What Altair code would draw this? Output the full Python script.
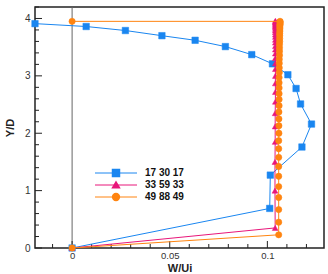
import altair as alt
import pandas as pd

# W/Ui profiles against Y/D for three cases
blue_name = "17 30 17"
blue_w = [-0.019, 0.0072, 0.0273, 0.046, 0.063, 0.0785, 0.092, 0.1026, 0.1105,
          0.1147, 0.117, 0.1226, 0.1177, 0.1015, 0.1012, 0.0]
blue_y = [3.91, 3.86, 3.79, 3.70, 3.62, 3.51, 3.37, 3.21, 3.02,
          2.78, 2.51, 2.16, 1.76, 1.27, 0.69, 0.0]

pink_name = "33 59 33"
pink_w = [0.0, 0.104, 0.1039, 0.1039, 0.104, 0.104, 0.104, 0.1041, 0.1041, 0.1041,
          0.1041, 0.1041, 0.1041, 0.1041, 0.1041, 0.1041, 0.1041, 0.1041, 0.1041, 0.1041,
          0.1041, 0.1041, 0.1041, 0.1041, 0.1041, 0.1041, 0.1041, 0.1041, 0.1041, 0.1041,
          0.1041]
pink_y = [0.0, 0.35, 1.0, 1.5, 1.85, 2.12, 2.35, 2.55, 2.72, 2.87,
          3.0, 3.12, 3.22, 3.31, 3.39, 3.46, 3.52, 3.58, 3.63, 3.68,
          3.72, 3.76, 3.79, 3.82, 3.85, 3.87, 3.89, 3.91, 3.93, 3.945,
          3.96]

orange_name = "49 88 49"
orange_w = [0.0, 0.1058, 0.1058, 0.1058, 0.1058, 0.1058, 0.1058, 0.1058, 0.1058, 0.1058,
            0.1058, 0.1059, 0.1059, 0.1059, 0.1059, 0.106, 0.106, 0.106, 0.106, 0.106,
            0.106, 0.1061, 0.1061, 0.1061, 0.1061, 0.1062, 0.1062, 0.1062, 0.1062, 0.1063,
            0.1063, 0.1063, 0.1063, 0.1064, 0.1064, 0.1064, 0.1064, 0.1065, 0.1065, 0.1065,
            0.1065, 0.0]
orange_y = [0.0, 0.23, 0.45, 0.67, 0.88, 1.07, 1.25, 1.42, 1.58, 1.73,
            1.87, 2.0, 2.13, 2.25, 2.37, 2.48, 2.59, 2.69, 2.79, 2.88,
            2.97, 3.06, 3.14, 3.22, 3.29, 3.36, 3.43, 3.49, 3.55, 3.6,
            3.65, 3.7, 3.74, 3.78, 3.82, 3.85, 3.88, 3.9, 3.92, 3.94,
            3.95, 3.95]

x_major = [0, 0.05, 0.1]
x_minor = [-0.01, 0.01, 0.02, 0.03, 0.04, 0.06, 0.07, 0.08, 0.09, 0.11, 0.12]
y_major = [0, 1, 2, 3, 4]
y_minor = [0.2, 0.4, 0.6, 0.8, 1.2, 1.4, 1.6, 1.8, 2.2, 2.4, 2.6, 2.8,
           3.2, 3.4, 3.6, 3.8, 4.2]

W, H = 289, 241
FONT = "Liberation Sans"

xscale = alt.Scale(domain=[-0.019, 0.129], nice=False, zero=False)
yscale = alt.Scale(domain=[0, 4.2], nice=False, zero=False)

x_axis = alt.Axis(values=x_major, format="~g", ticks=False, domain=False, grid=False,
                  labelFontSize=9.5, labelColor="#333", labelFont=FONT, labelPadding=2,
                  title="W/Ui", titleFont=FONT, titleFontSize=11, titleFontWeight="bold",
                  titleY=14, titleBaseline="top", titleColor="#222")
y_axis = alt.Axis(values=y_major, format="d", ticks=False, domain=False, grid=False,
                  labelFontSize=10, labelColor="#333", labelFont=FONT, labelPadding=5,
                  title="Y/D", titleFont=FONT, titleFontSize=11, titleFontWeight="bold",
                  titlePadding=9, titleColor="#222")


def xenc(field="w"):
    return alt.X(f"{field}:Q", scale=xscale, axis=x_axis)


def yenc(field="y"):
    return alt.Y(f"{field}:Q", scale=yscale, axis=y_axis)


def series(ws, ys, color, shape, size):
    df = pd.DataFrame({"w": ws, "y": ys, "i": list(range(len(ws)))})
    line = alt.Chart(df).mark_line(color=color, strokeWidth=1, clip=True).encode(
        x=xenc(), y=yenc(), order="i:Q")
    pts = alt.Chart(df).mark_point(shape=shape, filled=True, fill=color, stroke=color,
                                   strokeWidth=0.5, size=size, opacity=1).encode(
        x=xenc(), y=yenc())
    return line + pts


BLUE = "#1a86f0"
PINK = "#e8167a"
ORANGE = "#ff8410"

# zero line of W/Ui
zero_df = pd.DataFrame({"w": [0.0]})
zero_line = alt.Chart(zero_df).mark_rule(color="#666", strokeWidth=1).encode(x=xenc())

# inward ticks on bottom and left edges
def xticks(vals, length):
    df = pd.DataFrame({"w": vals})
    return alt.Chart(df).mark_rule(color="#222", strokeWidth=1).encode(
        x=xenc(), y=alt.value(H), y2=alt.value(H - length))


def yticks(vals, length):
    df = pd.DataFrame({"y": vals})
    return alt.Chart(df).mark_rule(color="#222", strokeWidth=1).encode(
        y=yenc(), x=alt.value(0), x2=alt.value(length))


# legend block
legend_names = [blue_name, pink_name, orange_name]
legend_styles = [(BLUE, "square", 42), (PINK, "triangle-up", 36), (ORANGE, "circle", 40)]
legend_rows = [166, 178, 190]
legend_layers = []
for name, (color, shape, size), ry in zip(legend_names, legend_styles, legend_rows):
    one = pd.DataFrame({"label": [name]})
    legend_layers.append(alt.Chart(one).mark_rule(color=color, strokeWidth=1).encode(
        x=alt.value(60), x2=alt.value(102), y=alt.value(ry)))
    legend_layers.append(alt.Chart(one).mark_point(shape=shape, filled=True, fill=color,
                                                   stroke=color, size=size, opacity=1).encode(
        x=alt.value(81), y=alt.value(ry)))
    legend_layers.append(alt.Chart(one).mark_text(align="left", baseline="middle", font=FONT,
                                                  fontSize=10, fontWeight="bold", color="#111").encode(
        x=alt.value(110), y=alt.value(ry), text="label:N"))

chart = alt.layer(
    zero_line,
    xticks(x_major, 7), xticks(x_minor, 4),
    yticks(y_major, 7), yticks(y_minor, 4),
    series(blue_w, blue_y, BLUE, "square", 42),
    series(pink_w, pink_y, PINK, "triangle-up", 34),
    series(orange_w, orange_y, ORANGE, "circle", 40),
    *legend_layers,
).properties(
    width=W, height=H,
    autosize=alt.AutoSizeParams(type="none"),
    padding={"left": 35, "top": 7, "right": 4, "bottom": 26},
    background="white",
).configure_view(
    stroke="#222", strokeWidth=1.5
)

chart.save("out.html", embed_options={"renderer": "svg", "actions": False})
